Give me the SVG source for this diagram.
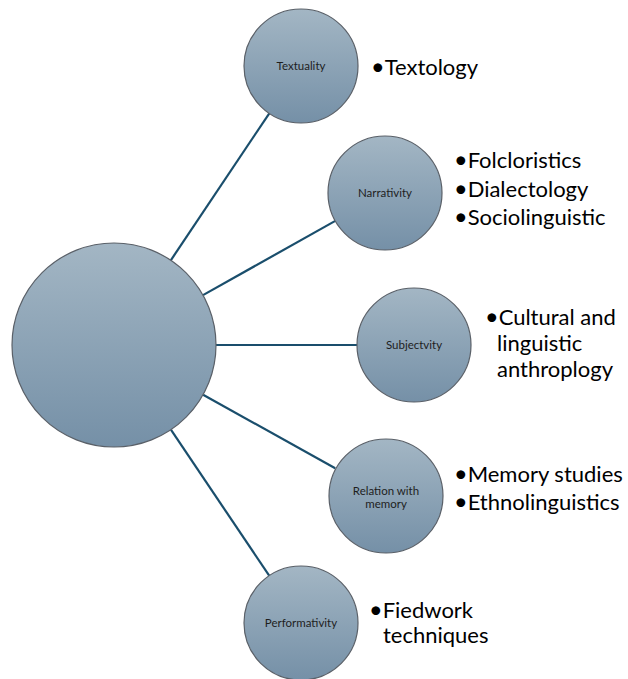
<svg xmlns="http://www.w3.org/2000/svg" width="628" height="679" viewBox="0 0 628 679">
  <defs>
    <linearGradient id="bubbleFill" x1="0" y1="0" x2="0" y2="1">
      <stop offset="0" stop-color="#a3b6c4"/>
      <stop offset="1" stop-color="#7590a7"/>
    </linearGradient>
    <style>
      .bubble { fill: url(#bubbleFill); stroke: #5a6068; stroke-width: 1.2; }
      .label { font-family: Lato, "Open Sans", "Liberation Sans", sans-serif; font-size: 11.5px; fill: #1e1e1e; text-anchor: middle; }
      .item { font-family: Lato, "Liberation Sans", sans-serif; font-size: 22px; fill: #000; }
      .dot { font-size: 23.5px; }
      .link { stroke: #1a4e6c; stroke-width: 2.2; fill: none; }
    </style>
  </defs>
  <rect width="628" height="679" fill="#ffffff"/>

  <!-- connectors from the hub to each topic -->
  <g id="connectors">
    <line class="link" x1="170.8" y1="260.3" x2="269.3" y2="113.3"/>
    <line class="link" x1="203.0" y1="295.1" x2="335.3" y2="220.9"/>
    <line class="link" x1="216" y1="345" x2="357" y2="345"/>
    <line class="link" x1="203.1" y1="394.7" x2="335.2" y2="468.3"/>
    <line class="link" x1="170.9" y1="429.6" x2="269.2" y2="575.7"/>
  </g>

  <!-- hub -->
  <g id="hub">
    <circle class="bubble" cx="114" cy="345" r="102"/>
  </g>

  <g id="textuality">
    <circle class="bubble" cx="301" cy="66" r="57"/>
    <text class="label" x="301" y="70">Textuality</text>
    <text class="item" x="371" y="75"><tspan class="dot">•</tspan>Textology</text>
  </g>

  <g id="narrativity">
    <circle class="bubble" cx="385" cy="193" r="57"/>
    <text class="label" x="385" y="197">Narrativity</text>
    <text class="item" x="454" y="168"><tspan class="dot">•</tspan>Folcloristics</text>
    <text class="item" x="454" y="197"><tspan class="dot">•</tspan>Dialectology</text>
    <text class="item" x="454" y="225"><tspan class="dot">•</tspan>Sociolinguistic</text>
  </g>

  <g id="subjectvity">
    <circle class="bubble" cx="414" cy="345" r="57"/>
    <text class="label" x="414" y="349">Subjectvity</text>
    <text class="item" x="485" y="325"><tspan class="dot">•</tspan>Cultural and</text>
    <text class="item" x="497" y="351">linguistic</text>
    <text class="item" x="497" y="377">anthroplogy</text>
  </g>

  <g id="relation-with-memory">
    <circle class="bubble" cx="386" cy="496" r="57"/>
    <text class="label" x="386" y="494.5">Relation with</text>
    <text class="label" x="386" y="508">memory</text>
    <text class="item" x="454" y="482"><tspan class="dot">•</tspan>Memory studies</text>
    <text class="item" x="454" y="510"><tspan class="dot">•</tspan>Ethnolinguistics</text>
  </g>

  <g id="performativity">
    <circle class="bubble" cx="301" cy="623" r="57"/>
    <text class="label" x="301" y="627">Performativity</text>
    <text class="item" x="369" y="618"><tspan class="dot">•</tspan>Fiedwork</text>
    <text class="item" x="383" y="643">techniques</text>
  </g>
</svg>
